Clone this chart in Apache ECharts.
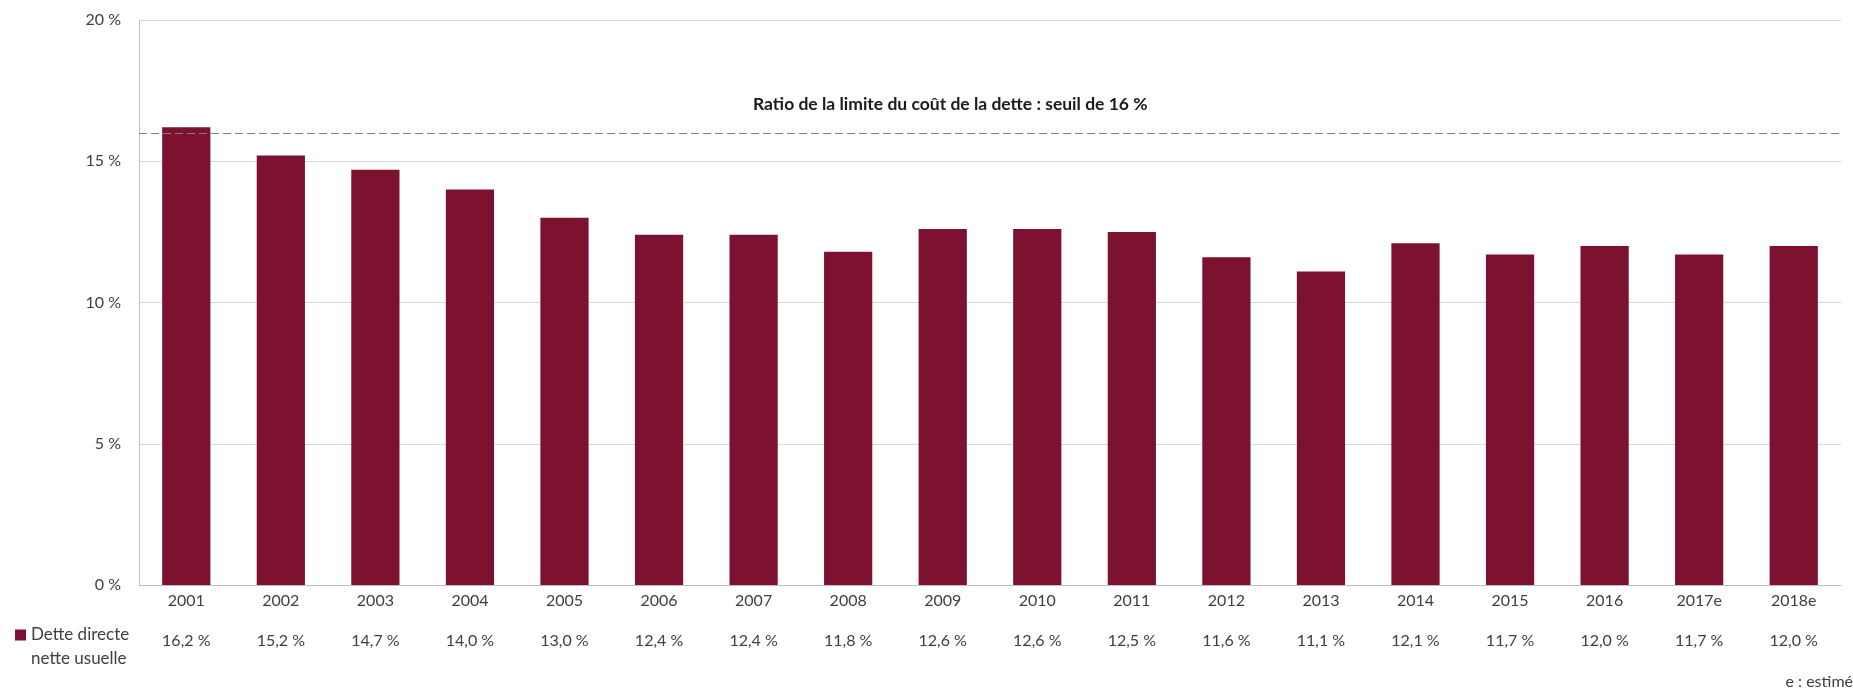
<!DOCTYPE html>
<html>
<head>
<meta charset="utf-8">
<script src="https://cdn.jsdelivr.net/npm/echarts@6/dist/echarts.min.js"></script>
<style>
  html, body { margin: 0; padding: 0; background: #fff; }
  #chart { width: 1853px; height: 692px; }
</style>
</head>
<body>
<div id="chart"></div>
<script>
// années et ratio dette directe nette usuelle (%)
const years = ['2001', '2002', '2003', '2004', '2005', '2006', '2007', '2008', '2009',
  '2010', '2011', '2012', '2013', '2014', '2015', '2016', '2017e', '2018e'];
const ratio = [16.2, 15.2, 14.7, 14.0, 13.0, 12.4, 12.4, 11.8, 12.6,
  12.6, 12.5, 11.6, 11.1, 12.1, 11.7, 12.0, 11.7, 12.0];
const threshold = 16;
const yTicks = [0, 5, 10, 15, 20];

const seriesName = 'Dette directe\nnette usuelle';
const fmt = v => v.toFixed(1).replace('.', ',') + ' %';
const font = 'Lato, "Open Sans", sans-serif';
const textColor = '#404040';

const chart = echarts.init(document.getElementById('chart'));

chart.setOption({
  animation: false,
  textStyle: { fontFamily: font },
  grid: { left: 139, right: 12, top: 20, bottom: 107 },
  legend: {
    left: 15,
    top: 623,
    padding: 0,
    data: [seriesName],
    // carré en haut, aligné sur la première ligne du libellé
    icon: 'path://M0,0L11,0L11,11L0,11Z M0,35L0.01,35Z',
    itemWidth: 11,
    itemHeight: 35,
    itemGap: 4,
    textStyle: {
      color: textColor,
      fontSize: 17,
      lineHeight: 24
    }
  },
  xAxis: [
    {
      type: 'category',
      data: years,
      axisLine: { lineStyle: { color: '#bfbfbf' } },
      axisTick: { show: false },
      axisLabel: { color: textColor, fontSize: 16, margin: 8 }
    },
    {
      type: 'category',
      position: 'bottom',
      offset: 40,
      data: ratio.map(fmt),
      axisLine: { show: false },
      axisTick: { show: false },
      axisLabel: { color: textColor, fontSize: 16, margin: 8 }
    }
  ],
  yAxis: {
    type: 'value',
    min: yTicks[0],
    max: yTicks[yTicks.length - 1],
    interval: 5,
    axisLine: { show: true, lineStyle: { color: '#bfbfbf' } },
    axisTick: { show: false },
    axisLabel: { color: textColor, fontSize: 16, margin: 18, formatter: '{value} %' },
    splitLine: { lineStyle: { color: '#d9d9d9' } }
  },
  series: [
    {
      name: seriesName,
      type: 'bar',
      data: ratio,
      barWidth: '51%',
      itemStyle: { color: '#7c1230' },
      markLine: {
        silent: true,
        symbol: 'none',
        label: { show: false },
        lineStyle: { color: '#808080', type: [8, 4], width: 1.2 },
        data: [{ yAxis: threshold }]
      }
    }
  ],
  graphic: [
    {
      type: 'text',
      left: 753,
      top: 95,
      style: {
        text: 'Ratio de la limite du coût de la dette : seuil de 16 %',
        font: 'bold 17.5px ' + font,
        fill: '#1a1a1a'
      }
    },
    {
      type: 'text',
      right: 0,
      top: 674,
      style: {
        text: 'e : estimé',
        font: '16px ' + font,
        fill: textColor
      }
    }
  ]
});
</script>
</body>
</html>
